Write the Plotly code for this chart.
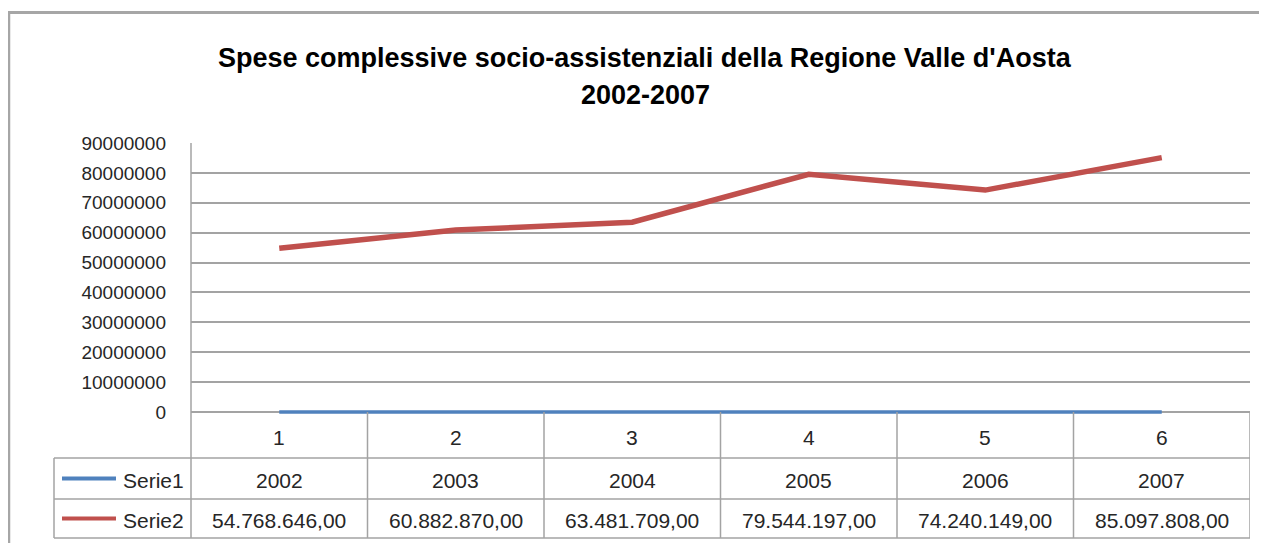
import plotly.graph_objects as go

# ---- data ----
categories = [1, 2, 3, 4, 5, 6]
serie1_name = "Serie1"
serie2_name = "Serie2"
serie1 = [2002, 2003, 2004, 2005, 2006, 2007]
serie2 = [54768646.00, 60882870.00, 63481709.00, 79544197.00, 74240149.00, 85097808.00]
y_ticks = [0, 10000000, 20000000, 30000000, 40000000, 50000000, 60000000, 70000000, 80000000, 90000000]
title_line1 = "Spese complessive socio-assistenziali della Regione Valle d'Aosta"
title_line2 = "2002-2007"

# ---- layout geometry (reference-screen pixels) ----
OFF = 8                    # page body margin
W, H = 1267 - OFF, 543 - OFF
L, R = 191, 1250           # plot area x
T, B = 143, 416            # plot area y (zero line at 412)
ZERO = 412
ROW1, ROW2, ROW3 = 458, 499, 538
LEG_L = 54

BLUE = "#4f81bd"
RED = "#c0504d"
GRID = "#a3a3a3"
TXT = "#262626"
FONT = "Liberation Sans, Arial, sans-serif"

def px_x(p):
    return (p - L) / (R - L)

def px_y(p):
    return (B - p) / (B - T)

ymax = 90000000
ylo = -ymax * (B - ZERO) / (ZERO - T)

def fmt_it(v):
    s = f"{v:,.2f}"
    return s.replace(",", "X").replace(".", ",").replace("X", ".")

fig = go.Figure()
fig.add_trace(go.Scatter(x=categories, y=serie1, mode="lines", name=serie1_name,
                         line=dict(color=BLUE, width=3.5), showlegend=False))
fig.add_trace(go.Scatter(x=categories, y=serie2, mode="lines", name=serie2_name,
                         line=dict(color=RED, width=5.5), showlegend=False))

shapes = []
line_style = dict(color=GRID, width=1.5)
# outer chart border (top and left)
shapes.append(dict(type="line", xref="paper", yref="paper", x0=px_x(8), x1=px_x(1300),
                   y0=px_y(12.5), y1=px_y(12.5), line=dict(color="#a6a6a6", width=3)))
shapes.append(dict(type="line", xref="paper", yref="paper", x0=px_x(9), x1=px_x(9),
                   y0=px_y(11), y1=px_y(600), line=dict(color="#a6a6a6", width=2.5)))
# table horizontals
for yy in (ROW1, ROW2, ROW3):
    shapes.append(dict(type="line", xref="paper", yref="paper", x0=px_x(LEG_L), x1=px_x(R),
                       y0=px_y(yy), y1=px_y(yy), line=line_style))
# left plot border through table
shapes.append(dict(type="line", xref="paper", yref="paper", x0=0, x1=0,
                   y0=px_y(T), y1=px_y(ROW3), line=line_style))
# legend cell left border
shapes.append(dict(type="line", xref="paper", yref="paper", x0=px_x(LEG_L), x1=px_x(LEG_L),
                   y0=px_y(ROW1), y1=px_y(ROW3), line=line_style))
# category boundaries
for c in categories:
    xb = c + 0.5
    shapes.append(dict(type="line", xref="x", yref="paper", x0=xb, x1=xb,
                       y0=px_y(ZERO), y1=px_y(ROW3), line=line_style))
# legend keys
for yy, col in (((ROW1 + ROW2) / 2, BLUE), ((ROW2 + ROW3) / 2, RED)):
    shapes.append(dict(type="line", xref="paper", yref="paper", x0=px_x(62), x1=px_x(116),
                       y0=px_y(yy), y1=px_y(yy), line=dict(color=col, width=4)))

annotations = []
annotations.append(dict(text=f"<b>{title_line1}</b>", xref="paper", yref="paper",
                        x=px_x(645), y=px_y(58), showarrow=False, xanchor="center", yanchor="middle",
                        font=dict(family=FONT, size=27, color="#000000")))
annotations.append(dict(text=f"<b>{title_line2}</b>", xref="paper", yref="paper",
                        x=px_x(645), y=px_y(95), showarrow=False, xanchor="center", yanchor="middle",
                        font=dict(family=FONT, size=27, color="#000000")))
tf = dict(family=FONT, size=21, color=TXT)
for c, s1, s2 in zip(categories, serie1, serie2):
    annotations.append(dict(text=str(c), xref="x", yref="paper", x=c, y=px_y(437),
                            showarrow=False, xanchor="center", yanchor="middle", font=tf))
    annotations.append(dict(text=str(s1), xref="x", yref="paper", x=c, y=px_y(480),
                            showarrow=False, xanchor="center", yanchor="middle", font=tf))
    annotations.append(dict(text=fmt_it(s2), xref="x", yref="paper", x=c, y=px_y(520),
                            showarrow=False, xanchor="center", yanchor="middle", font=tf))
for name, yy in ((serie1_name, 480), (serie2_name, 520)):
    annotations.append(dict(text=name, xref="paper", yref="paper", x=px_x(186), y=px_y(yy),
                            showarrow=False, xanchor="right", yanchor="middle", font=tf))

fig.update_layout(
    width=W, height=H,
    margin=dict(l=L - OFF, r=W - (R - OFF), t=T - OFF, b=H - (B - OFF), pad=0),
    paper_bgcolor="white", plot_bgcolor="white",
    shapes=shapes, annotations=annotations,
    xaxis=dict(range=[0.5, 6.5], showgrid=False, zeroline=False, showticklabels=False,
               showline=False, fixedrange=True),
    yaxis=dict(range=[ylo, ymax], tickvals=y_ticks, tickformat="d", showgrid=True,
               gridcolor=GRID, gridwidth=1.5, zeroline=False, showline=False,
               ticks="", ticklabelstandoff=24, tickfont=dict(family=FONT, size=19, color=TXT),
               fixedrange=True),
    showlegend=False,
)

fig.write_html("out.html")
